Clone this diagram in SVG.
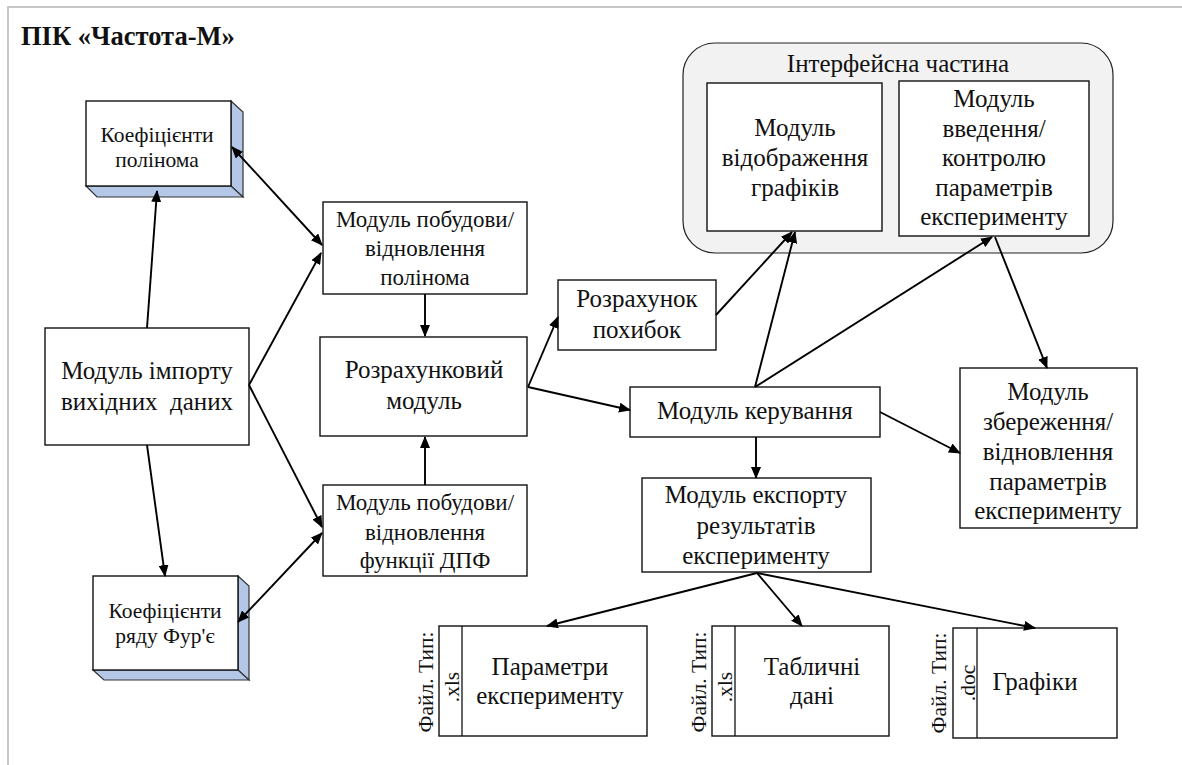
<svg xmlns="http://www.w3.org/2000/svg" width="1182" height="765" viewBox="0 0 1182 765">
<style>
text{font-family:"Liberation Serif","Times New Roman",serif;font-size:25px;fill:#111;text-anchor:middle}
.title{font-weight:bold;font-size:26.5px;text-anchor:start}
.s{font-size:21.5px}
.m{font-size:23px}
.r{font-size:21.5px}
.box{fill:#fff;stroke:#111;stroke-width:1.4}
.side{fill:#b4c7e7;stroke:#333;stroke-width:1.2}
.grp{fill:#f2f2f2;stroke:#222;stroke-width:1.2}
.frame{stroke:#c8c8c8;stroke-width:2;fill:none}
.c line{stroke:#000;stroke-width:1.9;marker-end:url(#ah)}
.c line.bi{marker-start:url(#ah)}
</style>
<defs>
<marker id="ah" viewBox="0 0 12 10" refX="11" refY="5" markerWidth="12" markerHeight="10" markerUnits="userSpaceOnUse" orient="auto-start-reverse"><path d="M0,0 L12,5 L0,10 z" fill="#000"/></marker>
</defs>
<rect width="1182" height="765" fill="#fff"/>
<path class="frame" d="M8,765 V7 H1182"/>
<text class="title" x="21" y="45">ПІК «Частота-М»</text>

<g id="interface">
<rect class="grp" x="683" y="43" width="430" height="210" rx="32"/>
<text x="898" y="72">Інтерфейсна частина</text>
</g>
<g id="display">
<rect class="box" x="707" y="83" width="175" height="148"/>
<text x="795" y="136">Модуль</text><text x="795" y="166">відображення</text><text x="795" y="196">графіків</text>
</g>
<g id="input">
<rect class="box" x="899" y="81" width="190" height="155"/>
<text x="994" y="107">Модуль</text><text x="994" y="137">введення/</text><text x="994" y="166">контролю</text><text x="994" y="196">параметрів</text><text x="994" y="225">експерименту</text>
</g>

<g id="coefPoly">
<polygon class="side" points="231,101 243,112 243,197 231,186"/>
<polygon class="side" points="86,186 231,186 243,197 97,197"/>
<rect class="box" x="86" y="101" width="145" height="85"/>
<text class="s" x="157" y="142">Коефіцієнти</text><text class="s" x="157" y="167">полінома</text>
</g>
<g id="coefFourier">
<polygon class="side" points="238,576 249,586 249,680 238,670"/>
<polygon class="side" points="93,670 238,670 249,680 104,680"/>
<rect class="box" x="93" y="576" width="145" height="94"/>
<text class="s" x="165" y="618">Коефіцієнти</text><text class="s" x="165" y="643">ряду Фур'є</text>
</g>
<g id="import">
<rect class="box" x="45" y="328" width="204" height="117"/>
<text x="147" y="379">Модуль імпорту</text><text x="147" y="410" xml:space="preserve">вихідних  даних</text>
</g>
<g id="polyModule">
<rect class="box" x="323" y="202" width="204" height="92"/>
<text class="m" x="425" y="227">Модуль побудови/</text><text class="m" x="425" y="256">відновлення</text><text class="m" x="425" y="285">полінома</text>
</g>
<g id="calc">
<rect class="box" x="320" y="337" width="207" height="99"/>
<text x="424" y="378">Розрахунковий</text><text x="424" y="409">модуль</text>
</g>
<g id="dftModule">
<rect class="box" x="323" y="485" width="204" height="91"/>
<text class="m" x="425" y="510">Модуль побудови/</text><text class="m" x="425" y="540">відновлення</text><text class="m" x="425" y="568">функції ДПФ</text>
</g>
<g id="errors">
<rect class="box" x="558" y="280" width="158" height="70"/>
<text x="637" y="307">Розрахунок</text><text x="637" y="338">похибок</text>
</g>
<g id="control">
<rect class="box" x="630" y="387" width="250" height="50"/>
<text x="755" y="419">Модуль керування</text>
</g>
<g id="save">
<rect class="box" x="960" y="368" width="177" height="160"/>
<text x="1048" y="400">Модуль</text><text x="1048" y="430">збереження/</text><text x="1048" y="460">відновлення</text><text x="1048" y="490">параметрів</text><text x="1048" y="519">експерименту</text>
</g>
<g id="export">
<rect class="box" x="642" y="478" width="229" height="94"/>
<text x="756" y="503">Модуль експорту</text><text x="756" y="534">результатів</text><text x="756" y="564">експерименту</text>
</g>
<g id="file1">
<rect class="box" x="439" y="626" width="208" height="110"/>
<line x1="462" y1="626" x2="462" y2="736" stroke="#111" stroke-width="1.3"/>
<text class="r" transform="translate(433,682) rotate(-90)">Файл. Тип:</text>
<text class="r" transform="translate(459,687) rotate(-90)">.xls</text>
<text x="550" y="675">Параметри</text><text x="550" y="704">експерименту</text>
</g>
<g id="file2">
<rect class="box" x="712" y="626" width="177" height="110"/>
<line x1="735" y1="626" x2="735" y2="736" stroke="#111" stroke-width="1.3"/>
<text class="r" transform="translate(706,682) rotate(-90)">Файл. Тип:</text>
<text class="r" transform="translate(732,687) rotate(-90)">.xls</text>
<text x="812" y="675">Табличні</text><text x="812" y="704">дані</text>
</g>
<g id="file3">
<rect class="box" x="953" y="628" width="164" height="110"/>
<line x1="977" y1="628" x2="977" y2="738" stroke="#111" stroke-width="1.3"/>
<text class="r" transform="translate(946,683) rotate(-90)">Файл. Тип:</text>
<text class="r" transform="translate(975,683) rotate(-90)">.doc</text>
<text x="1035" y="690">Графіки</text>
</g>

<g id="connectors" class="c">
<line x1="147" y1="328" x2="157" y2="191"/>
<line x1="147" y1="445" x2="165" y2="576"/>
<line class="bi" x1="232" y1="147" x2="322" y2="245"/>
<line x1="249" y1="385" x2="321" y2="253"/>
<line x1="249" y1="385" x2="322" y2="527"/>
<line class="bi" x1="238" y1="622" x2="322" y2="533"/>
<line x1="425" y1="294" x2="425" y2="336"/>
<line x1="425" y1="485" x2="425" y2="437"/>
<line x1="528" y1="387" x2="558" y2="317"/>
<line x1="528" y1="387" x2="630" y2="410"/>
<line x1="716" y1="315" x2="792" y2="232"/>
<line x1="755" y1="387" x2="795" y2="232"/>
<line x1="755" y1="387" x2="992" y2="237"/>
<line x1="995" y1="237" x2="1047" y2="368"/>
<line x1="880" y1="412" x2="960" y2="453"/>
<line x1="756" y1="437" x2="756" y2="478"/>
<line x1="757" y1="573" x2="547" y2="626"/>
<line x1="757" y1="573" x2="802" y2="626"/>
<line x1="757" y1="573" x2="1035" y2="628"/>
</g>
</svg>
